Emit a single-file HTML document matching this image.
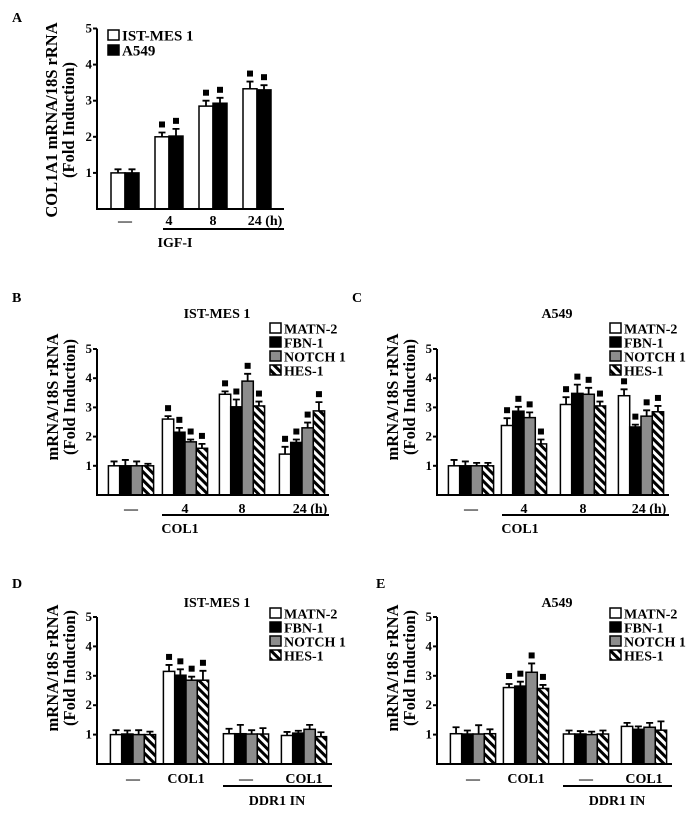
<!DOCTYPE html>
<html><head><meta charset="utf-8">
<style>
html,body{margin:0;padding:0;background:#fff;}
svg{display:block;}
text{font-family:"Liberation Serif",serif;font-weight:bold;fill:#000;}
</style></head>
<body>
<svg id="fig" width="695" height="816" viewBox="0 0 695 816" xmlns="http://www.w3.org/2000/svg">
<defs>
<pattern id="hatch" patternUnits="userSpaceOnUse" width="6" height="6" patternTransform="rotate(-45)">
<rect width="6" height="6" fill="#fff"/><rect width="3" height="6" fill="#000"/>
</pattern>
</defs>
</svg>
<script>
// ---- Panel A data ----
const aGroups = ["—","4","8","24 (h)"];
const aIST = [1.0, 2.0, 2.85, 3.33];
const aISTErr = [0.1, 0.12, 0.15, 0.2];
const aA549 = [1.0, 2.02, 2.93, 3.3];
const aA549Err = [0.1, 0.2, 0.15, 0.13];
const aSig = [false, true, true, true];
const yTicks = [1,2,3,4,5];
const geneNames = ["MATN-2","FBN-1","NOTCH 1","HES-1"];
// ---- Panel B ----
const bGroups = ["—","4","8","24 (h)"];
const bMATN = [1.0, 2.6, 3.45, 1.4];   const bMATNErr = [0.15,0.1,0.1,0.25];
const bFBN  = [1.0, 2.15, 3.02, 1.8];  const bFBNErr  = [0.2,0.15,0.25,0.1];
const bNOTCH= [1.0, 1.82, 3.9, 2.3];   const bNOTCHErr= [0.15,0.08,0.25,0.18];
const bHES  = [1.0, 1.6, 3.05, 2.88];  const bHESErr  = [0.07,0.15,0.15,0.3];
const bSig = [false,true,true,true];
// ---- Panel C ----
const cMATN = [1.0, 2.38, 3.1, 3.4];   const cMATNErr = [0.2,0.25,0.25,0.22];
const cFBN  = [1.0, 2.87, 3.48, 2.33]; const cFBNErr  = [0.15,0.15,0.3,0.08];
const cNOTCH= [1.0, 2.65, 3.45, 2.7];  const cNOTCHErr= [0.1,0.18,0.22,0.2];
const cHES  = [1.0, 1.75, 3.05, 2.85]; const cHESErr  = [0.1,0.15,0.15,0.2];
const cSig = [false,true,true,true];
// ---- Panel D ----
const dGroups = ["—","COL1","—","COL1"];
const dMATN = [1.0, 3.15, 1.03, 0.97]; const dMATNErr = [0.15,0.22,0.17,0.12];
const dFBN  = [1.02, 3.02, 1.03, 1.05];const dFBNErr  = [0.12,0.2,0.3,0.08];
const dNOTCH= [1.0, 2.85, 1.02, 1.18]; const dNOTCHErr= [0.15,0.12,0.13,0.15];
const dHES  = [1.0, 2.85, 1.02, 0.93]; const dHESErr  = [0.1,0.32,0.2,0.15];
const dSig = [false,true,false,false];
// ---- Panel E ----
const eMATN = [1.03, 2.6, 1.02, 1.28]; const eMATNErr = [0.22,0.12,0.12,0.12];
const eFBN  = [1.02, 2.65, 1.02, 1.18];const eFBNErr  = [0.12,0.15,0.1,0.1];
const eNOTCH= [1.02, 3.12, 1.0, 1.25]; const eNOTCHErr= [0.3,0.3,0.1,0.15];
const eHES  = [1.03, 2.57, 1.02, 1.15];const eHESErr  = [0.15,0.12,0.12,0.3];
const eSig = [false,true,false,false];

const NS="http://www.w3.org/2000/svg";
const svg=document.getElementById('fig');
function mk(tag,attrs,parent){const e=document.createElementNS(NS,tag);for(const k in attrs)e.setAttribute(k,attrs[k]);(parent||svg).appendChild(e);return e;}
function txt(x,y,s,size,anchor,parent,extra){const t=mk('text',Object.assign({x:x,y:y,'font-size':size,'text-anchor':anchor||'start'},extra||{}),parent);t.textContent=s;return t;}
const fills=['#fff','#000','#8c8c8c','url(#hatch)'];

function panel(cfg){
  const g=mk('g',{});
  
  
  const ax=cfg.ax, base=cfg.base, unit=cfg.unit;
  const y=v=>base-v*unit;
  const pl=txt(cfg.letterX,cfg.letterY,cfg.letter,14,'start',g);
  
  
  const n=cfg.series.length, bw=cfg.bw;
  cfg.centers.forEach((c,gi)=>{
    const left=c-n*bw/2;
    cfg.series.forEach((s,si)=>{
      const v=s[gi], e=cfg.errs[si][gi];
      const x=left+si*bw;
      const r=mk('rect',{x:x,y:y(v),width:bw,height:base-y(v),fill:cfg.fills[si],stroke:'#000','stroke-width':1.5},g);
      
      
      const cx=x+bw/2;
      const eb=mk('path',{d:`M${cx} ${y(v)} V${y(v+e)} M${cx-3.5} ${y(v+e)} H${cx+3.5}`,stroke:'#000','stroke-width':1.8,fill:'none'},g);
      
      
      if(cfg.sig[gi]){
        const m=mk('rect',{x:cx-3,y:y(v+e)-11,width:6,height:6,fill:'#000'},g);
        
        
      }
    });
  });
  const axes=mk('path',{d:`M${ax} ${y(5)} V${base} H${cfg.axEnd}`,stroke:'#000','stroke-width':2,fill:'none'},g);
  
  
  yTicks.forEach(t=>{
    mk('line',{x1:ax-4,x2:ax,y1:y(t),y2:y(t),stroke:'#000','stroke-width':2},g);
    const tl=txt(ax-5,y(t)+4,String(t),13,'end',g);
    
    
  });
  const yt=mk('text',{transform:`translate(${cfg.ytX},${cfg.ytY}) rotate(-90)`,'font-size':cfg.ytSize,'text-anchor':'middle'},g);
  
  
  const t1=mk('tspan',{x:0,y:0},yt);t1.textContent=cfg.yt1;
  const t2=mk('tspan',{x:0,y:cfg.ytGap},yt);t2.textContent='(Fold Induction)';
  cfg.centers.forEach((c,gi)=>{
    const lab=cfg.groups[gi];
    let xl=c;
    if(lab.indexOf('(h)')>=0) xl=c+8;
    const tl=txt(xl,cfg.labY,lab,14,'middle',g);
    
    
  });
  const ul=mk('line',{x1:cfg.ulX1,x2:cfg.ulX2,y1:cfg.ulY,y2:cfg.ulY,stroke:'#000','stroke-width':2},g);
  
  
  const tr=txt(cfg.trX,cfg.trY,cfg.treat,14,'middle',g);
  
  
  if(cfg.title){
    const ti=txt(cfg.titleX,cfg.titleY,cfg.title,14,'middle',g);
    
    
  }
  cfg.seriesNames.forEach((nm,i)=>{
    const ly=cfg.legY+i*cfg.legStep;
    const lb=mk('rect',{x:cfg.legX,y:ly,width:cfg.legBox,height:cfg.legBox-1,fill:cfg.fills[i],stroke:'#000','stroke-width':1.5},g);
    
    
    const lt=txt(cfg.legX+cfg.legBox+3,ly+cfg.legBox-0.5,nm,cfg.legSize,'start',g);
    
    
  });
}

panel({name:'panel-a',letter:'A',letterX:12,letterY:22,ax:97,axEnd:284,base:209,unit:36.1,bw:14,
  centers:[125,169,213,257],series:[aIST,aA549],errs:[aISTErr,aA549Err],fills:['#fff','#000'],sig:aSig,
  seriesNames:['IST-MES 1','A549'],groups:aGroups,ytX:57,ytY:120,ytSize:16.5,ytGap:17,yt1:'COL1A1 mRNA/18S rRNA',
  labY:225,ulX1:163,ulX2:284,ulY:229,treat:'IGF-I',trX:175,trY:247,legX:108,legY:30,legStep:15,legBox:11,legSize:15});

const geneFills=fills;
panel({name:'panel-b',letter:'B',letterX:12,letterY:302,ax:97,axEnd:329,base:495,unit:29.2,bw:11.3,
  centers:[131,185,242,302],series:[bMATN,bFBN,bNOTCH,bHES],errs:[bMATNErr,bFBNErr,bNOTCHErr,bHESErr],fills:geneFills,sig:bSig,
  seriesNames:geneNames,groups:bGroups,ytX:58,ytY:397,ytSize:16.5,ytGap:17,yt1:'mRNA/18S rRNA',
  labY:513,ulX1:162,ulX2:329,ulY:515,treat:'COL1',trX:180,trY:533,title:'IST-MES 1',titleX:217,titleY:318,
  legX:270,legY:323,legStep:14,legBox:11,legSize:14});

panel({name:'panel-c',letter:'C',letterX:352,letterY:302,ax:437,axEnd:669,base:495,unit:29.2,bw:11.3,
  centers:[471,524,583,641],series:[cMATN,cFBN,cNOTCH,cHES],errs:[cMATNErr,cFBNErr,cNOTCHErr,cHESErr],fills:geneFills,sig:cSig,
  seriesNames:geneNames,groups:bGroups,ytX:398,ytY:397,ytSize:16.5,ytGap:17,yt1:'mRNA/18S rRNA',
  labY:513,ulX1:502,ulX2:669,ulY:515,treat:'COL1',trX:520,trY:533,title:'A549',titleX:557,titleY:318,
  legX:610,legY:323,legStep:14,legBox:11,legSize:14});

panel({name:'panel-d',letter:'D',letterX:12,letterY:588,ax:97,axEnd:332,base:764,unit:29.4,bw:11.3,
  centers:[133,186,246,304],series:[dMATN,dFBN,dNOTCH,dHES],errs:[dMATNErr,dFBNErr,dNOTCHErr,dHESErr],fills:geneFills,sig:dSig,
  seriesNames:geneNames,groups:dGroups,ytX:58,ytY:668,ytSize:16.5,ytGap:17,yt1:'mRNA/18S rRNA',
  labY:783,ulX1:223,ulX2:332,ulY:786,treat:'DDR1 IN',trX:277,trY:805,title:'IST-MES 1',titleX:217,titleY:607,
  legX:270,legY:608,legStep:14,legBox:11,legSize:14});

panel({name:'panel-e',letter:'E',letterX:376,letterY:588,ax:437,axEnd:672,base:764,unit:29.4,bw:11.3,
  centers:[473,526,586,644],series:[eMATN,eFBN,eNOTCH,eHES],errs:[eMATNErr,eFBNErr,eNOTCHErr,eHESErr],fills:geneFills,sig:eSig,
  seriesNames:geneNames,groups:dGroups,ytX:398,ytY:668,ytSize:16.5,ytGap:17,yt1:'mRNA/18S rRNA',
  labY:783,ulX1:563,ulX2:672,ulY:786,treat:'DDR1 IN',trX:617,trY:805,title:'A549',titleX:557,titleY:607,
  legX:610,legY:608,legStep:14,legBox:11,legSize:14});
</script>
</body></html>
